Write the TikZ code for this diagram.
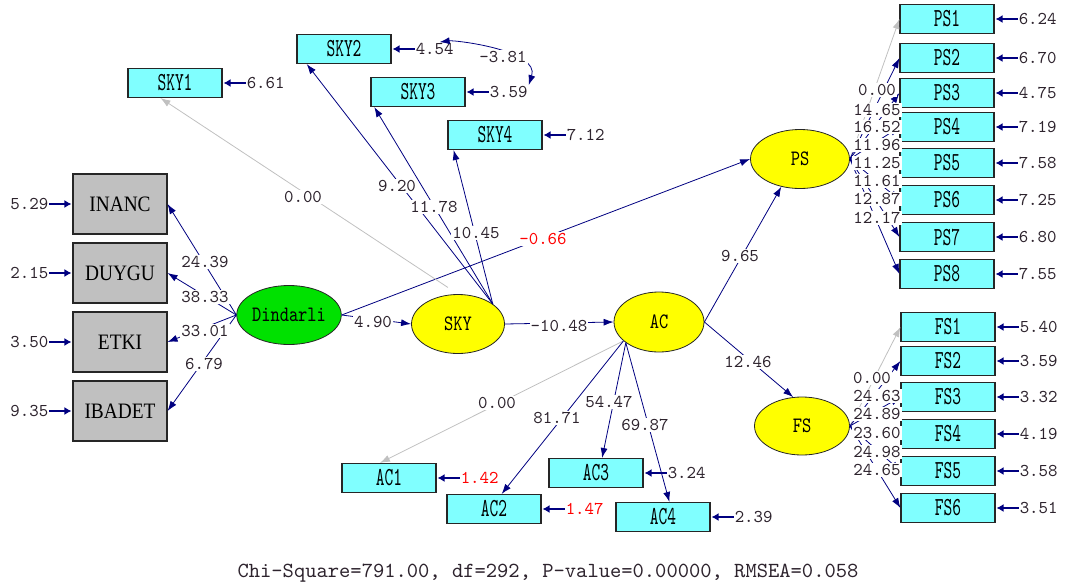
\documentclass[tikz,border=0pt]{standalone}
\usepackage{fontspec}
\setmainfont{Liberation Serif}
\newfontfamily\numfont{lmmono10-regular.otf}
\newfontfamily\boxfont[FakeStretch=0.64]{lmmono10-regular.otf}
\newfontfamily\latfont[FakeStretch=0.8]{lmmono10-regular.otf}
\newfontfamily\obsfont[FakeStretch=0.88]{Liberation Serif}
\usetikzlibrary{arrows.meta,shapes.geometric}
\definecolor{lnavy}{RGB}{0,0,128}
\definecolor{lcyan}{RGB}{128,255,255}
\definecolor{lgray}{RGB}{192,192,192}
\definecolor{lgreen}{RGB}{0,225,0}
\definecolor{lyellow}{RGB}{255,255,0}
\definecolor{ltext}{RGB}{45,35,45}
\definecolor{lred}{RGB}{255,0,0}
\begin{document}
\begin{tikzpicture}[x=1pt,y=-1pt,line cap=butt,line join=miter,>={Latex[length=10pt,width=7pt]},
		indbox/.style={draw=black!85,line width=1.1pt,fill=lcyan,minimum width=94pt,minimum height=29pt,inner sep=0pt,font=\boxfont\fontsize{26}{26}\selectfont},
		obsbox/.style={indbox,fill=lgray,minimum height=60pt,font=\obsfont\fontsize{22}{22}\selectfont},
		latent/.style={ellipse,draw=black!85,line width=0.8pt,fill=lyellow,minimum width=93pt,minimum height=59pt,inner sep=0pt,font=\latfont\fontsize{22}{22}\selectfont},
		coef/.style={fill=white,inner sep=1pt,text=ltext,font=\numfont\fontsize{18}{18}\selectfont},
		errval/.style={coef,fill=none},
		loadpath/.style={draw=lnavy,line width=0.8pt,->},
		fixpath/.style={loadpath,draw=lgray},
		errpath/.style={draw=lnavy,line width=1.8pt,-{Latex[length=7pt,width=8pt]},shorten >=1pt},
		covpath/.style={draw=lnavy,line width=0.8pt,<->}]
	\useasboundingbox (0,0) rectangle (1085,587);
	\node[latent,fill=lgreen] (Din) at (289,315) {Dindarli};
	\node[latent] (SKY) at (458,324) {SKY};
	\node[latent,minimum width=90pt,minimum height=60pt] (AC) at (659,322) {AC};
	\node[latent,minimum width=99pt] (PS) at (800,159) {PS};
	\node[latent,minimum width=95pt,minimum height=58pt] (FS) at (802,426) {FS};
	\foreach \o/\y/\e in {INANC/204/5.29, DUYGU/273/2.15, ETKI/342/3.50, IBADET/411/9.35}{
		\node[obsbox] (\o) at (120,\y) {\o};
		\node[errval,anchor=east] (e\o) at ([xshift=-23pt]\o.west) {\e};
		\draw[errpath] (e\o) -- (\o);
	}
	\foreach \i/\x/\y/\e in {1/175/83/6.61, 2/344/49/4.54, 3/418/92/3.59, 4/495/135/7.12}{
		\node[indbox] (SKY\i) at (\x,\y) {SKY\i};
		\node[errval,anchor=west] (eSKY\i) at ([xshift=23pt]SKY\i.east) {\e};
		\draw[errpath] (eSKY\i) -- (SKY\i);
	}
	\foreach \i/\y/\e in {1/19/6.24, 2/58/6.70, 3/93/4.75, 4/127/7.19, 5/163/7.58, 6/200/7.25, 7/237/6.80, 8/274/7.55}{
		\node[indbox] (PS\i) at (947,\y) {PS\i};
		\node[errval,anchor=west] (ePS\i) at ([xshift=23pt]PS\i.east) {\e};
		\draw[errpath] (ePS\i) -- (PS\i);
	}
	\foreach \i/\y/\e in {1/327/5.40, 2/361/3.59, 3/397/3.32, 4/434/4.19, 5/471/3.58, 6/508/3.51}{
		\node[indbox] (FS\i) at (948,\y) {FS\i};
		\node[errval,anchor=west] (eFS\i) at ([xshift=23pt]FS\i.east) {\e};
		\draw[errpath] (eFS\i) -- (FS\i);
	}
	\foreach \i/\x/\y/\e/\c in {1/389/478/1.42/lred, 2/494/509/1.47/lred, 3/596/473/3.24/ltext, 4/663/517/2.39/ltext}{
		\node[indbox] (AC\i) at (\x,\y) {AC\i};
		\node[errval,anchor=west,text=\c] (eAC\i) at ([xshift=23pt]AC\i.east) {\e};
		\draw[errpath] (eAC\i) -- (AC\i);
	}
	\foreach \o in {INANC,DUYGU,ETKI,IBADET}
		\draw[loadpath] (Din.west) -- (\o.east);
	\draw[loadpath] (Din.east) -- (SKY.west);
	\draw[loadpath] (Din.east) -- (PS.west);
	\draw[fixpath,shorten <=12pt] (SKY.north) -- (SKY1.-134);
	\draw[loadpath] (SKY.30) -- (SKY2.-158);
	\draw[loadpath] (SKY.30) -- (SKY3.-161);
	\draw[loadpath] (SKY.30) -- (SKY4.-160);
	\draw[loadpath] (SKY.east) -- (AC.west);
	\draw[loadpath] (AC.east) -- (PS.-124);
	\draw[loadpath] (AC.east) -- (FS.107);
	\draw[fixpath] (AC.-152) -- (AC1.121);
	\draw[loadpath] (AC.-152) -- (AC2.63);
	\draw[loadpath] (AC.-148) -- (AC3.68);
	\draw[loadpath] (AC.-148) -- (AC4.67);
	\draw[fixpath] (PS.east) -- (PS1.west);
	\foreach \i in {2,...,8}
		\draw[loadpath] (PS.east) -- (PS\i.west);
	\draw[fixpath] (FS.east) -- (FS1.west);
	\foreach \i in {2,...,6}
		\draw[loadpath] (FS.east) -- (FS\i.west);
	\draw[covpath] ([xshift=5pt]eSKY2.north) .. controls (455,40) and (540,50) .. (eSKY3.north east);
	\node[coef] at (503,57) {-3.81};
	\foreach \v/\x/\y in {24.39/205/262, 38.33/205/297, 33.01/205/331, 6.79/204/364, 0.00/303/197, 9.20/397/186, 11.78/434/207, 10.45/476/233, 4.90/373/322, -10.48/559/326, 9.65/740/256, 12.46/748/362, 0.00/497/403, 81.71/557/418, 54.47/609/402, 69.87/645/425}
		\node[coef] at (\x,\y) {\v};
	\node[coef,text=lred] at (543,239) {-0.66};
	\foreach \v/\y in {0.00/90, 14.65/110, 16.52/127, 11.96/145, 11.25/163, 11.61/181, 12.87/199, 12.17/218}
		\node[coef] at (877,\y) {\v};
	\node[coef] at (872,378) {0.00};
	\foreach \v/\y in {24.63/396, 24.89/414, 23.60/433, 24.98/452, 24.65/470}
		\node[coef] at (877,\y) {\v};
	\node[errval,font=\numfont\fontsize{21.5}{21.5}\selectfont] (fitline) at (548,573) {Chi-Square=791.00, df=292, P-value=0.00000, RMSEA=0.058};
\end{tikzpicture}
\end{document}
